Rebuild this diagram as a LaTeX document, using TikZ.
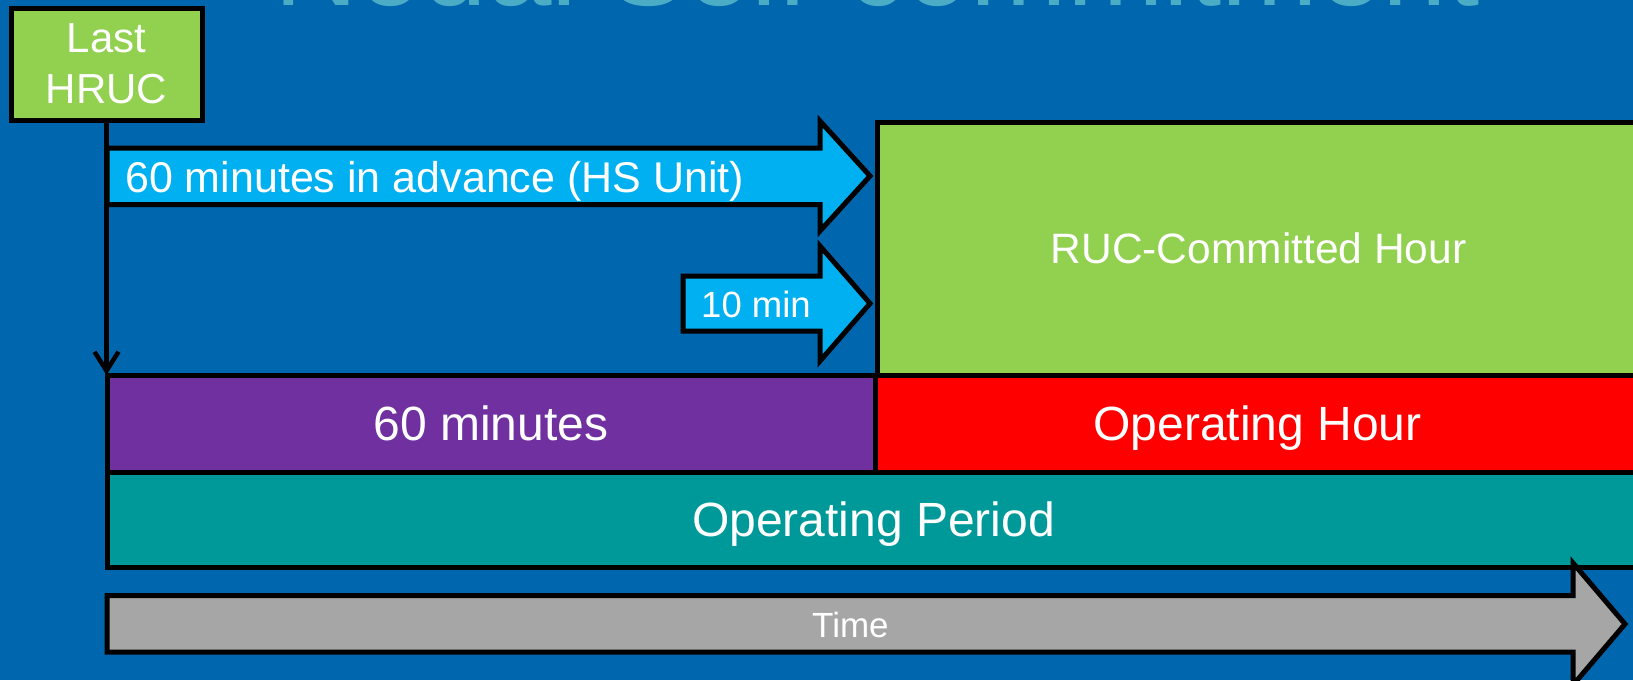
\documentclass[tikz,border=0pt]{standalone}
\usepackage{fontspec}
\setmainfont{Liberation Sans}
\usetikzlibrary{arrows.meta}
\definecolor{bgblue}{HTML}{0066AD}
\definecolor{skyb}{HTML}{00B0F0}
\definecolor{lgreen}{HTML}{92D050}
\definecolor{purp}{HTML}{7030A0}
\definecolor{teal2}{HTML}{009999}
\definecolor{grey2}{HTML}{A6A6A6}
\definecolor{titleb}{HTML}{4BACC6}
\begin{document}
\begin{tikzpicture}[x=1pt,y=-1pt,
  box/.style={draw=black, line width=5pt, inner sep=0pt, outer sep=0pt, text=white},
  bigtxt/.style={font=\fontsize{48}{56}\selectfont, text height=34.4pt, text depth=0pt},
  midtxt/.style={font=\fontsize{42.5}{50}\selectfont, text height=30pt, text depth=0pt},
  arrowshape/.style={draw=black, line width=5pt, line join=miter},
  lbl/.style={anchor=base west, inner sep=0pt, text=white}]
\useasboundingbox (0,0) rectangle (1633,680);
\clip (0,0) rectangle (1633,680);
\fill[bgblue] (0,0) rectangle (1633,680);
% partly visible title
\node[anchor=base, text=titleb, font=\fontsize{116}{120}\selectfont, inner sep=0pt] (title) at (877,5.5) {Nodal Self-commitment};
% bars
\node[box, fill=lgreen, minimum width=763pt, minimum height=253pt, midtxt] (ruc) at (1258.5,248.5) {RUC-Committed Hour};
\node[box, fill=teal2, minimum width=1533pt, minimum height=95.5pt, bigtxt] (period) at (873.5,519.75) {Operating Period};
\node[box, fill=purp, minimum width=768pt, minimum height=97pt, bigtxt] (sixty) at (491,423.5) {60 minutes};
\node[box, fill=red, minimum width=765pt, minimum height=97pt, bigtxt] (ophour) at (1257.5,423.5) {Operating Hour};
% Last HRUC
\node[box, fill=lgreen, minimum width=191pt, minimum height=112pt, align=center, font=\fontsize{42}{51}\selectfont] (hruc) at (106.5,64) {Last\\HRUC};
% block arrows
\draw[arrowshape, fill=skyb] (107,148) -- (820,148) -- (820,121) -- (870,176) -- (820,231) -- (820,204.5) -- (107,204.5) -- cycle;
\node[lbl, font=\fontsize{43}{50}\selectfont] (adv) at (125,192) {60 minutes in advance (HS Unit)};
\draw[arrowshape, fill=skyb] (683,276) -- (820,276) -- (820,246) -- (870,303.5) -- (820,361) -- (820,331) -- (683,331) -- cycle;
\node[lbl, font=\fontsize{36.5}{42}\selectfont] (tenmin) at (701,317) {10 min};
\draw[arrowshape, fill=grey2] (107,595.5) -- (1573,595.5) -- (1573,563) -- (1625,624) -- (1573,685) -- (1573,652) -- (107,652) -- cycle;
\node[lbl, font=\fontsize{35}{42}\selectfont] (time) at (812,637) {Time};
% connector
\draw[line width=4.5pt, -{Straight Barb[length=19pt,width=24pt]}] (hruc.south) -- (hruc.south |- sixty.north);
\end{tikzpicture}
\end{document}
